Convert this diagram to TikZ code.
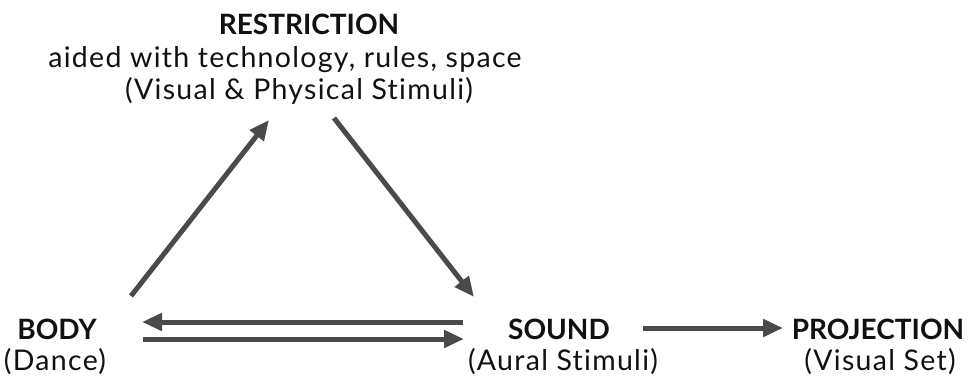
\documentclass[tikz,border=0pt]{standalone}
\usepackage{fontspec}
\setmainfont[Ligatures=NoCommon]{Lato}
\newfontfamily\subfont[LetterSpace=4.5,Ligatures=NoCommon]{Lato}
\usetikzlibrary{arrows.meta}
\definecolor{arrowgray}{HTML}{4A4A4A}
\definecolor{txt}{HTML}{111111}
\tikzset{
  x=1pt, y=-1pt,
  head/.style={font=\fontsize{28}{32}\selectfont\bfseries, text=txt, inner sep=0pt, anchor=base},
  sub/.style={font=\subfont\fontsize{28.5}{32}\selectfont, text=txt, inner sep=0pt, anchor=base},
  flow/.style={draw=arrowgray, line width=5pt, -{Triangle[length=20pt,width=17pt]}},
}
\begin{document}
\begin{tikzpicture}
\useasboundingbox (0,0) rectangle (970,376);
% texts
\node[head] (restr) at (309,34) {RESTRICTION};
\node[sub] (restr2) at (285,67) {aided with technology, rules, space};
\node[sub] (restr3) at (299,99) {(Visual \& Physical Stimuli)};
\node[head] (body) at (57,339) {BODY};
\node[sub] (body2) at (55,370) {(Dance)};
\node[head] (sound) at (559,339) {SOUND};
\node[sub] (sound2) at (563,370) {(Aural Stimuli)};
\node[head] (proj) at (878,339) {PROJECTION};
\node[sub] (proj2) at (880,370) {(Visual Set)};
% connector endpoints
\coordinate (bodyUp) at (131,296);
\coordinate (restrL) at (269,120);
\coordinate (restrR) at (334,118);
\coordinate (soundUp) at (474,297);
\coordinate (soundTop) at (463,322);
\coordinate (bodyTop) at (142,322);
\coordinate (bodyBot) at (143,339);
\coordinate (soundBot) at (464,339);
\coordinate (soundR) at (643,328);
\coordinate (projL) at (783,328);
% connectors
\draw[flow] (bodyUp) -- (restrL);
\draw[flow] (restrR) -- (soundUp);
\draw[flow] (soundTop) -- (bodyTop);
\draw[flow] (bodyBot) -- (soundBot);
\draw[flow] (soundR) -- (projL);
\end{tikzpicture}
\end{document}
